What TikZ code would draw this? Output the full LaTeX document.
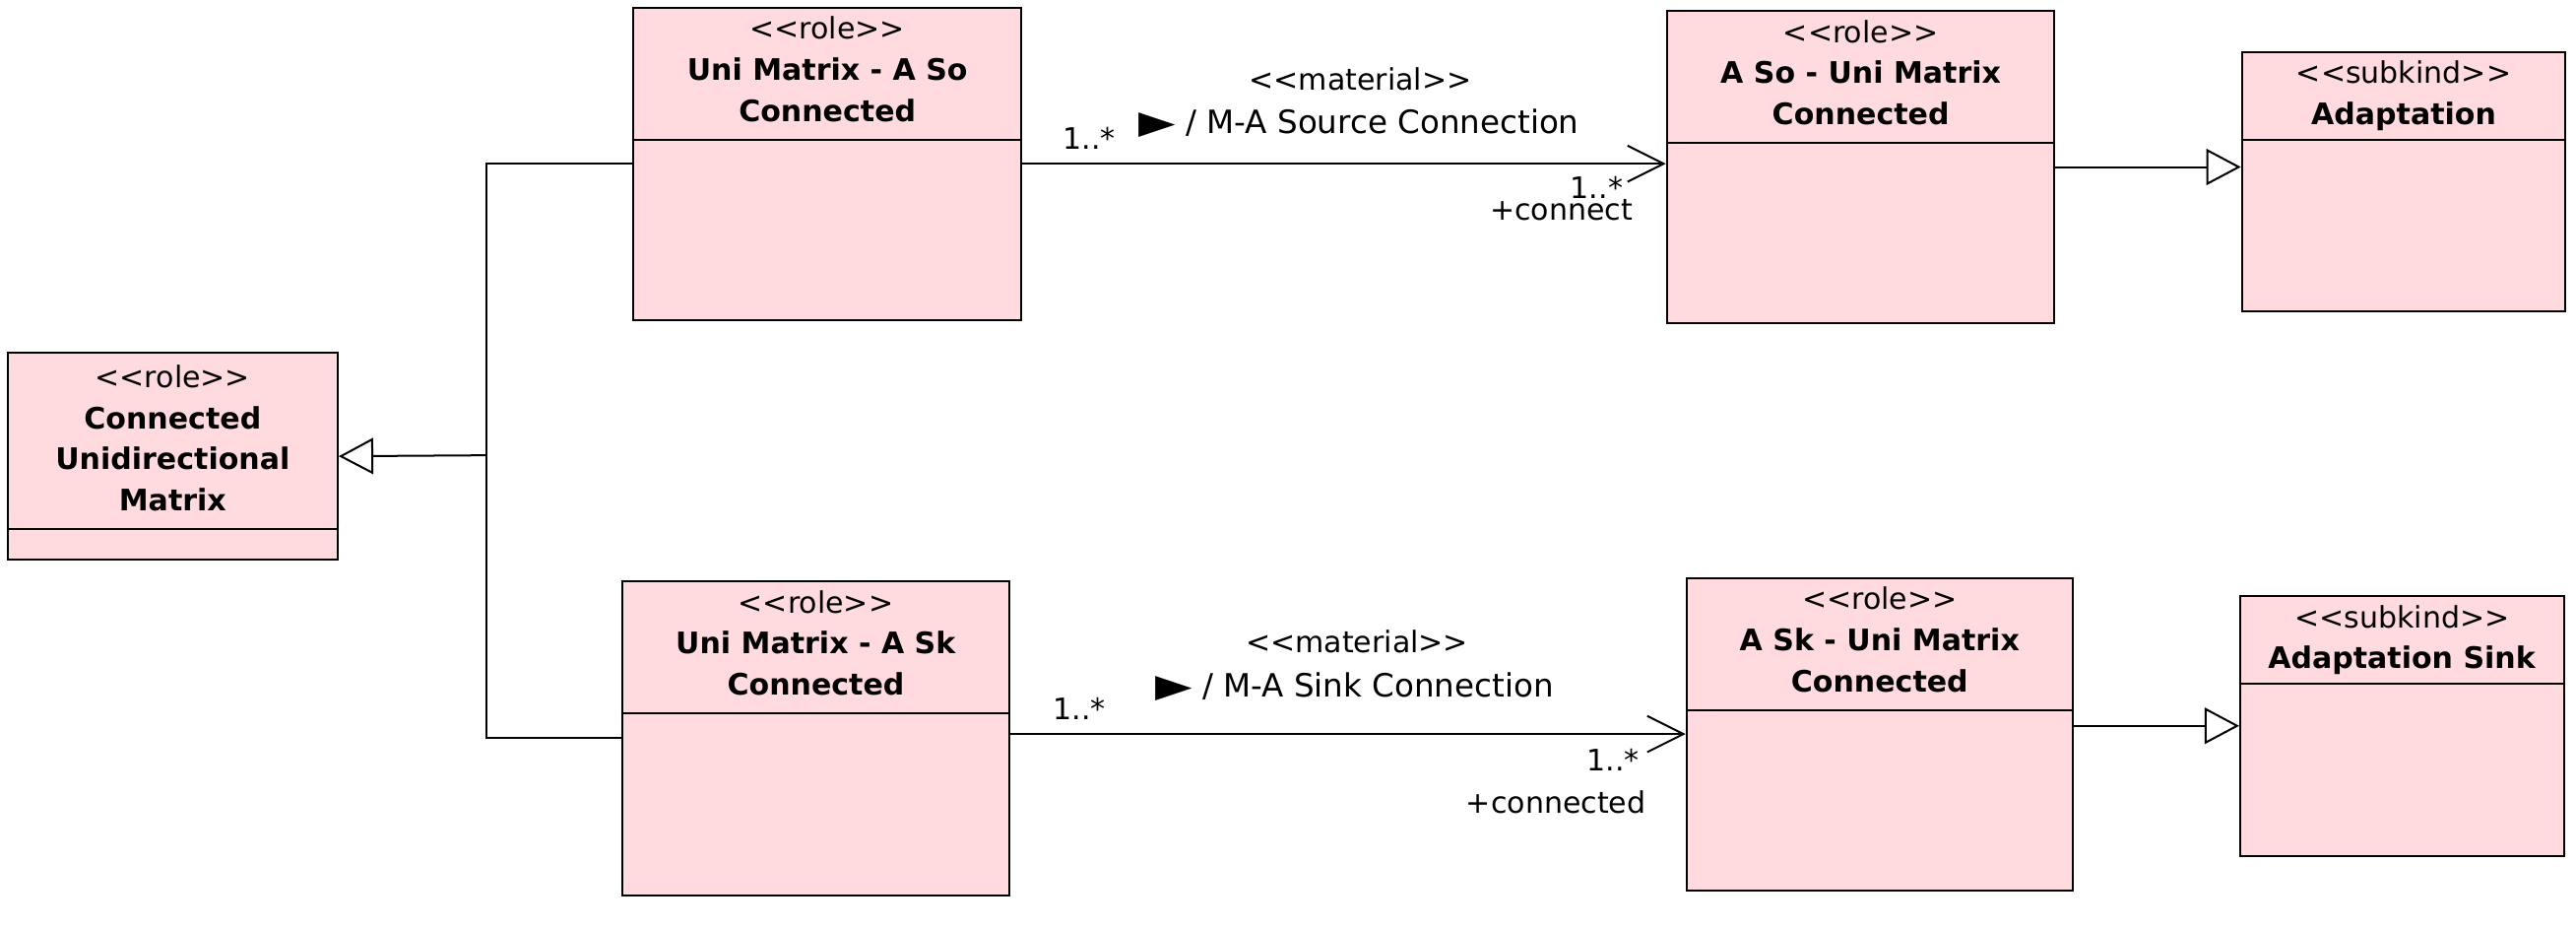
\documentclass[tikz,border=0pt]{standalone}
\usepackage{fontspec}
\newfontfamily\umlfont{DejaVu Sans}
\usetikzlibrary{arrows.meta,positioning}

\definecolor{rolepink}{RGB}{255,218,222}

\tikzset{
	umlclass/.style={draw, fill=rolepink, line width=1.2pt, anchor=north west, inner sep=0pt},
	umlhead/.style={anchor=north, align=center, inner xsep=0pt, inner ysep=6pt, font={\umlfont\fontsize{18}{25}\selectfont}},
	umllabel/.style={inner sep=0pt, font={\umlfont\fontsize{18}{22}\selectfont}},
	umlname/.style={umllabel, font={\umlfont\fontsize{19.5}{22}\selectfont}},
	link/.style={line width=1.2pt},
	assoc/.style={link, -{Straight Barb[length=22pt,width=22pt]}},
	gen/.style={link, -{Triangle[open,length=21pt,width=22pt]}},
}
\newcommand{\umlsep}[2]{\draw[link] ([yshift=-#2]#1.north west) -- ([yshift=-#2]#1.north east);}
\newcommand{\tri}{\scalebox{1.5}[1]{▶}}

\begin{document}
\begin{tikzpicture}[x=1pt,y=-1pt]
		\useasboundingbox (0,0) rectangle (1568,565);
		
		% --- Classes ---
		\node[umlclass, minimum width=201, minimum height=126] (cum) at (4,214) {};
		\node[umlclass, minimum width=236, minimum height=190] (soL) at (385,4) {};
		\node[umlclass, minimum width=236, minimum height=191] (skL) at (378,353) {};
		\node[umlclass, minimum width=236, minimum height=190] (aso) at (1014,6) {};
		\node[umlclass, minimum width=235, minimum height=190] (ask) at (1026,351) {};
		\node[umlclass, minimum width=197, minimum height=158] (ada) at (1364,31) {};
		\node[umlclass, minimum width=197, minimum height=158] (ads) at (1363,362) {};
		
		\node[umlhead, inner ysep=8pt] (cumT) at (cum.north) {<<role>>\\\textbf{Connected}\\\textbf{Unidirectional}\\\textbf{Matrix}};
		\node[umlhead] (soLT) at (soL.north) {<<role>>\\\textbf{Uni Matrix - A So}\\\textbf{Connected}};
		\node[umlhead] (skLT) at (skL.north) {<<role>>\\\textbf{Uni Matrix - A Sk}\\\textbf{Connected}};
		\node[umlhead] (asoT) at (aso.north) {<<role>>\\\textbf{A So - Uni Matrix}\\\textbf{Connected}};
		\node[umlhead] (askT) at (ask.north) {<<role>>\\\textbf{A Sk - Uni Matrix}\\\textbf{Connected}};
		\node[umlhead] (adaT) at (ada.north) {<<subkind>>\\\textbf{Adaptation}};
		\node[umlhead] (adsT) at (ads.north) {<<subkind>>\\\textbf{Adaptation Sink}};
		
		\umlsep{cum}{108}
		\umlsep{soL}{81}
		\umlsep{skL}{81}
		\umlsep{aso}{81}
		\umlsep{ask}{81}
		\umlsep{ada}{54}
		\umlsep{ads}{54}
		
		% --- Generalizations ---
		\coordinate (fork) at (296,277);
		\draw[link] (soL.west) -| (fork |- skL.west) -- (skL.west);
		\draw[gen] (fork) -- (cum.east);
		\draw[gen] (aso.east) -- (aso.east -| ada.west);
		\draw[gen] (ads.west -| ask.east) -- (ads.west);
		
		% --- Associations ---
		\draw[assoc] (soL.east) -- (soL.east -| aso.west);
		\draw[assoc] (ask.west -| skL.east) -- (ask.west);
		
		\node[umllabel, anchor=base west] (soMulA) at (647,91) {1..*};
		\node[umllabel, anchor=base] (soStereo) at (828,55) {<<material>>};
		\node[umlname, anchor=base west] (soName) at (693,81) {\tri{} / M-A Source Connection};
		\node[umllabel, anchor=base east] (soMulB) at (988,121) {1..*};
		\node[umllabel, anchor=base east] (soRole) at (994,134) {+connect};
		
		\node[umllabel, anchor=base west] (skMulA) at (641,438) {1..*};
		\node[umllabel, anchor=base] (skStereo) at (826,397) {<<material>>};
		\node[umlname, anchor=base west] (skName) at (703,424) {\tri{} / M-A Sink Connection};
		\node[umllabel, anchor=base east] (skMulB) at (998,469) {1..*};
		\node[umllabel, anchor=base east] (skRole) at (1002,495) {+connected};
	\end{tikzpicture}
\end{document}
